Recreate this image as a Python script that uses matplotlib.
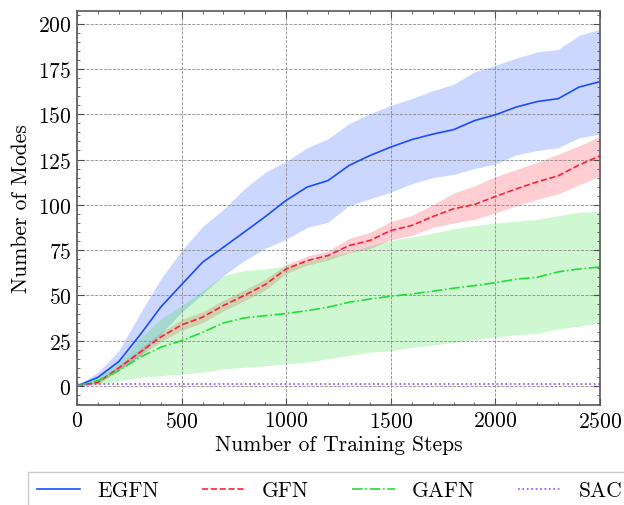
"""Mode discovery curves: number of modes found vs training steps."""

import matplotlib
matplotlib.use("Agg")
import matplotlib.pyplot as plt
from matplotlib.ticker import MultipleLocator

plt.rcParams.update({
    "font.family": "serif",
    "font.serif": ["cmr10"],
    "mathtext.fontset": "cm",
    "axes.formatter.use_mathtext": True,
    "font.size": 15.5,
    "xtick.direction": "in",
    "ytick.direction": "in",
    "xtick.top": True,
    "ytick.right": True,
})

steps = [0, 100, 200, 300, 400, 500, 600, 700, 800, 900, 1000, 1100, 1200,
         1300, 1400, 1500, 1600, 1700, 1800, 1900, 2000, 2100, 2200, 2300,
         2400, 2500]

egfn_mean = [0, 4.8, 13.5, 28, 43.5, 56, 68.3, 76.6, 85, 93.5, 102.5, 109.8,
             113.4, 121.7, 127.2, 131.9, 136, 139, 141.5, 146.5, 149.7, 154,
             157, 158.6, 165, 168]
egfn_hi = [0, 7.6, 19.5, 39.8, 59, 74.8, 88, 97.5, 108.8, 118, 124, 131.5,
           136.5, 144.8, 150.3, 154.9, 158.6, 163, 166.5, 173.4, 177, 181,
           184.4, 185.8, 193.5, 197]
egfn_lo = [0, 2, 8.5, 16.8, 28.7, 40.7, 50.8, 61, 69.2, 76, 81, 87.5, 90.4,
           99.6, 103.3, 107, 111.6, 115, 116.8, 120, 122.6, 127.6, 130, 131.5,
           137, 139]

gfn_mean = [0, 2, 10, 18.5, 27, 33.7, 38, 44.4, 50, 56, 64.6, 69.2, 72, 77.5,
            80.3, 85.8, 88.6, 93.5, 97.8, 100.2, 104.6, 108.8, 112.7, 116,
            122, 127]
gfn_hi = [0, 3, 11.5, 20.5, 29.5, 36.7, 41, 47.4, 53, 59, 67, 71.7, 74.5,
          81.5, 84.8, 90.8, 94.1, 100, 106.5, 110.5, 115.5, 119.5, 123.5, 128,
          132.5, 137.8]
gfn_lo = [0, 1, 8.5, 16.5, 24.5, 30.7, 35, 41.4, 47, 53, 62.1, 66.7, 69.5,
          73.5, 75.8, 80.8, 83.1, 87.5, 90, 92, 95.5, 99.5, 103, 106, 111, 116]

gafn_mean = [0, 3, 8.5, 15.8, 21.4, 25, 29.6, 34.8, 37.6, 38.8, 40, 41.6,
             43.5, 46.2, 48, 49.5, 50.8, 52.3, 54, 55.4, 57, 59, 60, 63, 64.6,
             65.7]
gafn_hi = [0, 4.8, 13, 26, 37, 44.4, 52.6, 61, 63.7, 64.6, 66.5, 68.4, 72,
           73.8, 77.5, 80.3, 82.3, 84.3, 86.7, 88.6, 90, 91, 92, 94, 96, 96.5]
gafn_lo = [0, 0.5, 3, 4.8, 5.7, 6.6, 7.6, 9.4, 10.3, 11.2, 12.2, 13.2, 15,
           16.8, 18.6, 19.5, 21.3, 22.5, 24, 25.6, 27, 28.3, 29, 31.5, 33, 35]

sac_mean = [1, 1, 1, 1, 1, 1, 1, 1, 1, 1, 1, 1, 1, 1, 1, 1, 1, 1, 1, 1, 1, 1,
            1, 1, 1, 1]

series = [
    ("EGFN", egfn_mean, egfn_lo, egfn_hi, "#1a4cff", "-"),
    ("GFN", gfn_mean, gfn_lo, gfn_hi, "#ff2035", "--"),
    ("GAFN", gafn_mean, gafn_lo, gafn_hi, "#22dd33", "-."),
    ("SAC", sac_mean, None, None, "#9147ff", ":"),
]

fig = plt.figure(figsize=(6.24, 5.06), dpi=100)
ax = fig.add_axes([0.1234, 0.1976, 0.8381, 0.7787])

for name, mean, lo, hi, color, ls in series:
    if lo is not None:
        ax.fill_between(steps, lo, hi, color=color, alpha=0.22, linewidth=0)
    ax.plot(steps, mean, color=color, linestyle=ls, linewidth=1.2, label=name)

ax.set_xlim(0, 2500)
ax.set_ylim(-10.5, 207)
ax.xaxis.set_major_locator(MultipleLocator(500))
ax.xaxis.set_minor_locator(MultipleLocator(100))
ax.yaxis.set_major_locator(MultipleLocator(25))
ax.yaxis.set_minor_locator(MultipleLocator(5))
ax.tick_params(which="major", length=5, width=0.8, color="0.3", pad=4)
ax.tick_params(which="minor", length=2.5, width=0.6, color="0.3")
for sp in ax.spines.values():
    sp.set_color("0.35")
    sp.set_linewidth(1.2)
ax.grid(True, which="major", linestyle="--", linewidth=0.6, color="0.55")

ax.set_xlabel("Number of Training Steps", labelpad=3)
ax.set_ylabel("Number of Modes", labelpad=5)

fig.legend(loc="upper left", bbox_to_anchor=(28 / 624, 1 - 473 / 506),
           borderaxespad=0, ncol=4, fancybox=False, edgecolor="0.8",
           framealpha=1, handlelength=2.0, handletextpad=0.8,
           columnspacing=2.0, borderpad=0.4)

fig.savefig("out.png", dpi=100, facecolor="white")
